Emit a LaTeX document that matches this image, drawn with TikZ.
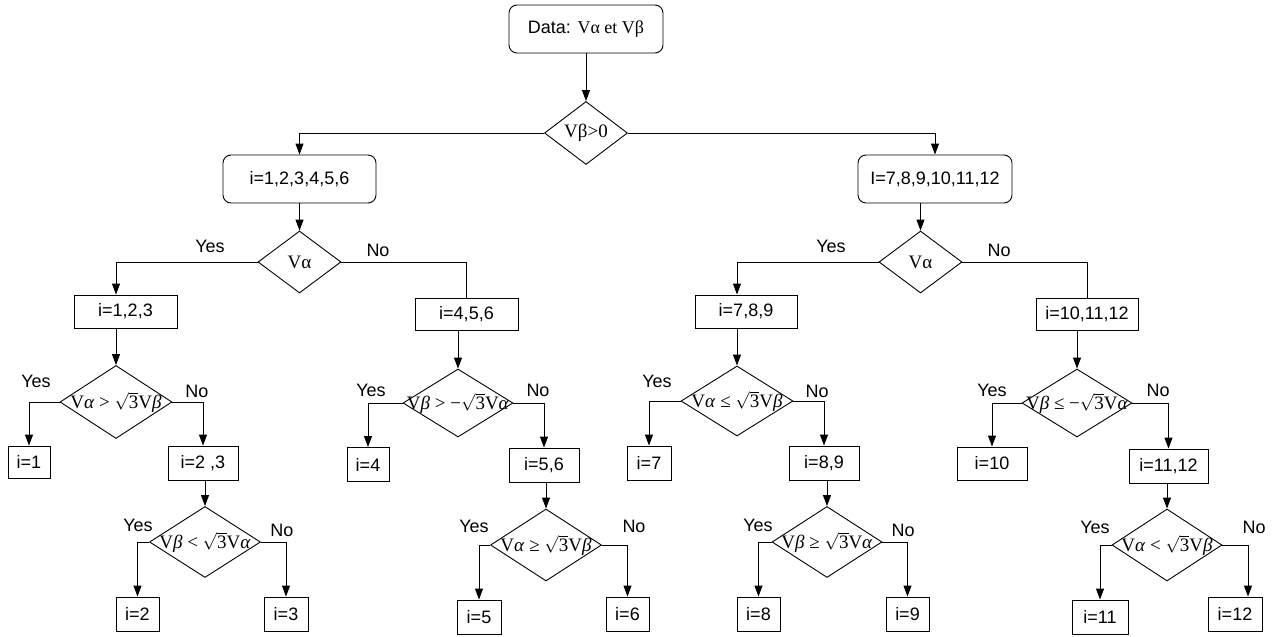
\documentclass[tikz,border=0pt]{standalone}
\usepackage{amsmath}
\usepackage{fontspec}
\setmainfont{Liberation Sans}
\newfontfamily\tms{Liberation Serif}
\usetikzlibrary{shapes.geometric,arrows.meta}
\newcommand\ial{\textit{α}}
\newcommand\ibe{\textit{β}}
\newcommand\sqt{\ensuremath{\sqrt{\mbox{\tms 3}}}}
\tikzset{
  every path/.style={line width=0.9pt},
  box/.style={draw, inner sep=0pt, font=\fontsize{18}{20}\selectfont},
  rbox/.style={box, rounded corners=8pt},
  dia/.style={draw, diamond, inner sep=0pt},
  dtxt/.style={inner sep=0pt, font=\tms\fontsize{19}{21}\selectfont},
  lbl/.style={inner sep=0pt, font=\fontsize{18}{20}\selectfont},
  arr/.style={-{Triangle[length=11pt,width=8pt]}}
}
\begin{document}
\begin{tikzpicture}[x=1pt,y=-1pt]
\useasboundingbox (0,0) rectangle (1274,637);
% top
\node[rbox, minimum width=154pt, minimum height=48pt] (data) at (586,29) {Data: {\tms Vα et Vβ}};
\node[dia, minimum width=83pt, minimum height=63pt, label={[dtxt]center:Vβ>0}] (d0) at (586,133) {};
\node[rbox, minimum width=153pt, minimum height=48pt] (b16) at (299.5,179) {i=1,2,3,4,5,6};
\node[rbox, minimum width=154pt, minimum height=48pt] (b712) at (935,179) {I=7,8,9,10,11,12};
\node[dia, minimum width=83pt, minimum height=62pt, label={[dtxt]center:Vα}] (dL) at (299.5,262) {};
\node[dia, minimum width=83pt, minimum height=62pt, label={[dtxt]center:Vα}] (dR) at (920.5,262) {};
% level 2 boxes
\node[box, minimum width=103pt, minimum height=33pt] (b123) at (125.5,311.5) {i=1,2,3};
\node[box, minimum width=103pt, minimum height=32pt] (b456) at (466.5,314) {i=4,5,6};
\node[box, minimum width=102pt, minimum height=33pt] (b789) at (746,311.5) {i=7,8,9};
\node[box, minimum width=102pt, minimum height=32pt] (b101112) at (1087,314) {i=10,11,12};
% level 3 diamonds
\node[dia, minimum width=112pt, minimum height=73pt, label={[dtxt]center:V\ial\ > \sqt V\ibe}] (d1) at (116,402) {};
\node[dia, minimum width=110pt, minimum height=68pt, label={[dtxt]center:V\ibe\ > −\sqt V\ial}] (d2) at (458,403) {};
\node[dia, minimum width=112pt, minimum height=70pt, label={[dtxt]center:V\ial\ ≤ \sqt V\ibe}] (d3) at (737,401) {};
\node[dia, minimum width=110pt, minimum height=68pt, label={[dtxt]center:V\ibe\ ≤ −\sqt V\ial}] (d4) at (1077,403) {};
% level 3 boxes
\node[box, minimum width=42pt, minimum height=32pt] (b1) at (29,462) {i=1};
\node[box, minimum width=70pt, minimum height=34pt] (b23) at (203,463) {i=2 ,3};
\node[box, minimum width=42pt, minimum height=34pt] (b4) at (368,464.5) {i=4};
\node[box, minimum width=70pt, minimum height=34pt] (b56) at (544,465) {i=5,6};
\node[box, minimum width=44pt, minimum height=34pt] (b7) at (649,463) {i=7};
\node[box, minimum width=70pt, minimum height=34pt] (b89) at (824,463) {i=8,9};
\node[box, minimum width=70pt, minimum height=33pt] (b10) at (992,463.5) {i=10};
\node[box, minimum width=79pt, minimum height=34pt] (b1112) at (1168.5,466) {i=11,12};
% level 4 diamonds
\node[dia, minimum width=111pt, minimum height=71pt, label={[dtxt]center:V\ibe\ < \sqt V\ial}] (d5) at (205,542) {};
\node[dia, minimum width=111pt, minimum height=72pt, label={[dtxt]center:V\ial\ ≥ \sqt V\ibe}] (d6) at (546,545) {};
\node[dia, minimum width=110pt, minimum height=71pt, label={[dtxt]center:V\ibe\ ≥ \sqt V\ial}] (d7) at (827,542) {};
\node[dia, minimum width=110pt, minimum height=72pt, label={[dtxt]center:V\ial\ < \sqt V\ibe}] (d8) at (1167,545) {};
% level 4 boxes
\node[box, minimum width=43pt, minimum height=34pt] (b2) at (137.5,614) {i=2};
\node[box, minimum width=44pt, minimum height=34pt] (b3) at (286,614) {i=3};
\node[box, minimum width=44pt, minimum height=34pt] (b5) at (479,617) {i=5};
\node[box, minimum width=43pt, minimum height=34pt] (b6) at (627.5,614) {i=6};
\node[box, minimum width=43pt, minimum height=34pt] (b8) at (758.5,614) {i=8};
\node[box, minimum width=43pt, minimum height=34pt] (b9) at (907.5,614) {i=9};
\node[box, minimum width=56pt, minimum height=34pt] (b11) at (1100,617) {i=11};
\node[box, minimum width=54pt, minimum height=34pt] (b12) at (1235,614) {i=12};
% labels
\node[lbl] (yL) at (210,246) {Yes};
\node[lbl] (nL) at (378,250) {No};
\node[lbl] (yR) at (831,246) {Yes};
\node[lbl] (nR) at (999,250) {No};
\node[lbl] (y1) at (36,381) {Yes};
\node[lbl] (n1) at (197,391) {No};
\node[lbl] (y2) at (371,390) {Yes};
\node[lbl] (n2) at (538,390) {No};
\node[lbl] (y3) at (657,381) {Yes};
\node[lbl] (n3) at (817,391) {No};
\node[lbl] (y4) at (992,390) {Yes};
\node[lbl] (n4) at (1158,390) {No};
\node[lbl] (y5) at (138,525) {Yes};
\node[lbl] (n5) at (282,530) {No};
\node[lbl] (y6) at (474,526) {Yes};
\node[lbl] (n6) at (634,526) {No};
\node[lbl] (y7) at (758,525) {Yes};
\node[lbl] (n7) at (903,530) {No};
\node[lbl] (y8) at (1095,527) {Yes};
\node[lbl] (n8) at (1254,527) {No};
% connectors
\draw[arr] (data) -- (d0);
\draw[arr] (d0.west) -| (b16.north);
\draw[arr] (d0.east) -| (b712.north);
\draw[arr] (b16.south -| dL.north) -- (dL.north);
\draw[arr] (b712.south -| dR.north) -- (dR.north);
\draw[arr] (dL.west) -| (b123.north -| d1.north);
\draw (dL.east) -| (b456.north);
\draw[arr] (dR.west) -| (b789.north -| d3.north);
\draw (dR.east) -| (b101112.north);
\draw[arr] (b123.south -| d1.north) -- (d1.north);
\draw[arr] (b456.south -| d2.north) -- (d2.north);
\draw[arr] (b789.south -| d3.north) -- (d3.north);
\draw[arr] (b101112.south -| d4.north) -- (d4.north);
\draw[arr] (d1.west) -| (b1.north);
\draw[arr] (d1.east) -| (b23.north);
\draw[arr] (d2.west) -| (b4.north);
\draw[arr] (d2.east) -| (b56.north);
\draw[arr] (d3.west) -| (b7.north);
\draw[arr] (d3.east) -| (b89.north);
\draw[arr] (d4.west) -| (b10.north);
\draw[arr] (d4.east) -| (b1112.north);
\draw[arr] (b23.south -| d5.north) -- (d5.north);
\draw[arr] (b56.south -| d6.north) -- (d6.north);
\draw[arr] (b89.south -| d7.north) -- (d7.north);
\draw[arr] (b1112.south -| d8.north) -- (d8.north);
\draw[arr] (d5.west) -| (b2.north);
\draw[arr] (d5.east) -| (b3.north);
\draw[arr] (d6.west) -| (b5.north);
\draw[arr] (d6.east) -| (b6.north);
\draw[arr] (d7.west) -| (b8.north);
\draw[arr] (d7.east) -| (b9.north);
\draw[arr] (d8.west) -| (b11.north);
\draw[arr] (d8.east) -| ([xshift=13pt]b12.north);
\end{tikzpicture}
\end{document}
